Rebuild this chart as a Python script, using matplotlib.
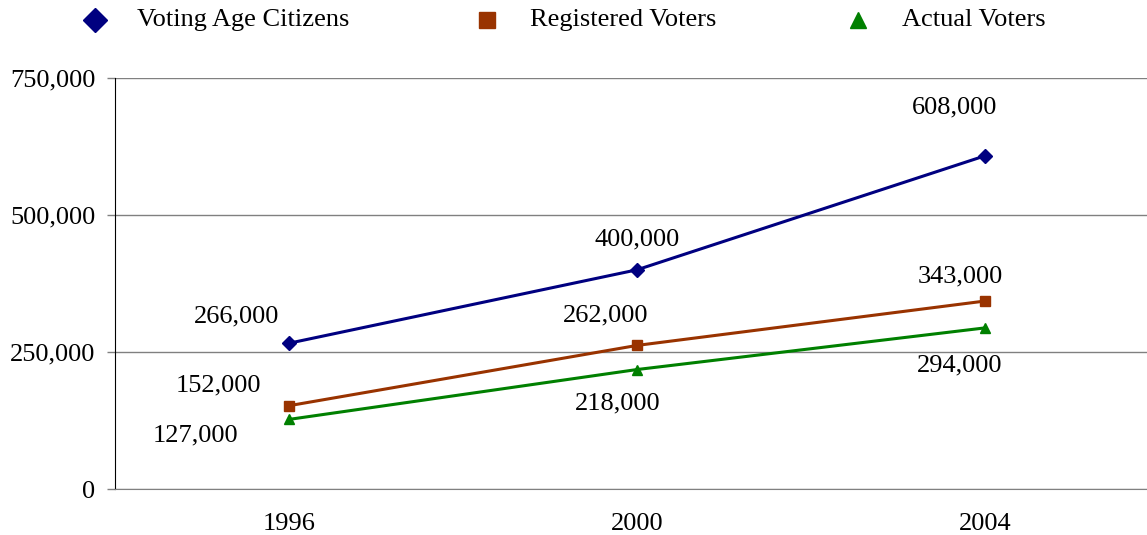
import matplotlib.pyplot as plt
from matplotlib.lines import Line2D
import numpy as np

plt.rcParams['font.family'] = ['Liberation Serif', 'DejaVu Serif']

years = ['1996', '2000', '2004']
citizens = [266000, 400000, 608000]
registered = [152000, 262000, 343000]
actual = [127000, 218000, 294000]

# label offsets in pixels (dx, dy) from each point
off_cit = [(-52, 27), (0, 30), (-30, 48)]
off_reg = [(-71, 20), (-31, 30), (-25, 25)]
off_act = [(-94, -16), (-19, -34), (-25, -38)]

W, H = 1147, 535
fig = plt.figure(figsize=(W / 100, H / 100), dpi=100)
ax = fig.add_axes([115 / W, 1 - 489 / H, (1159 - 115) / W, (489 - 78) / H])

FS = 19
x = np.arange(len(years))
series = [
    (citizens, '#000080', 'D', 'Voting Age Citizens', off_cit),
    (registered, '#993300', 's', 'Registered Voters', off_reg),
    (actual, '#008000', '^', 'Actual Voters', off_act),
]
for vals, col, mk, name, offs in series:
    ax.plot(x, vals, color=col, marker=mk, markersize=7, lw=2.2, clip_on=False)
    for xi, v, (dx, dy) in zip(x, vals, offs):
        ax.annotate('{:,}'.format(v), (xi, v), xytext=(dx, dy), textcoords='offset pixels',
                    ha='center', va='center', fontsize=FS)

ax.set_xlim(-0.5, 2.5)
ax.set_ylim(0, 750000)
yt = [0, 250000, 500000, 750000]
ax.set_yticks(yt)
ax.set_yticklabels(['{:,}'.format(t) for t in yt], fontsize=FS)
ax.set_xticks(x)
ax.set_xticklabels(years, fontsize=FS)
ax.tick_params(axis='x', length=0, pad=17)
ax.tick_params(axis='y', length=6, width=1, color='#808080', pad=8)
ax.yaxis.grid(True, color='#808080', lw=1)
ax.set_axisbelow(True)
for s in ['top', 'right']:
    ax.spines[s].set_visible(False)
ax.spines['left'].set_color('black')
ax.spines['bottom'].set_color('#808080')

# legend drawn by hand along the top
leg_marker_x = [95, 487, 858]
leg_text_x = [137, 530, 902]
leg_y = 1 - 20 / H
for (vals, col, mk, name, offs), mx, tx in zip(series, leg_marker_x, leg_text_x):
    fig.add_artist(Line2D([mx / W], [leg_y], marker=mk, color=col, markersize=12 if mk == 'D' else 11,
                          ls='none', transform=fig.transFigure))
    fig.text(tx / W, leg_y, name, fontsize=FS, ha='left', va='center')

fig.savefig('out.png', dpi=100)
